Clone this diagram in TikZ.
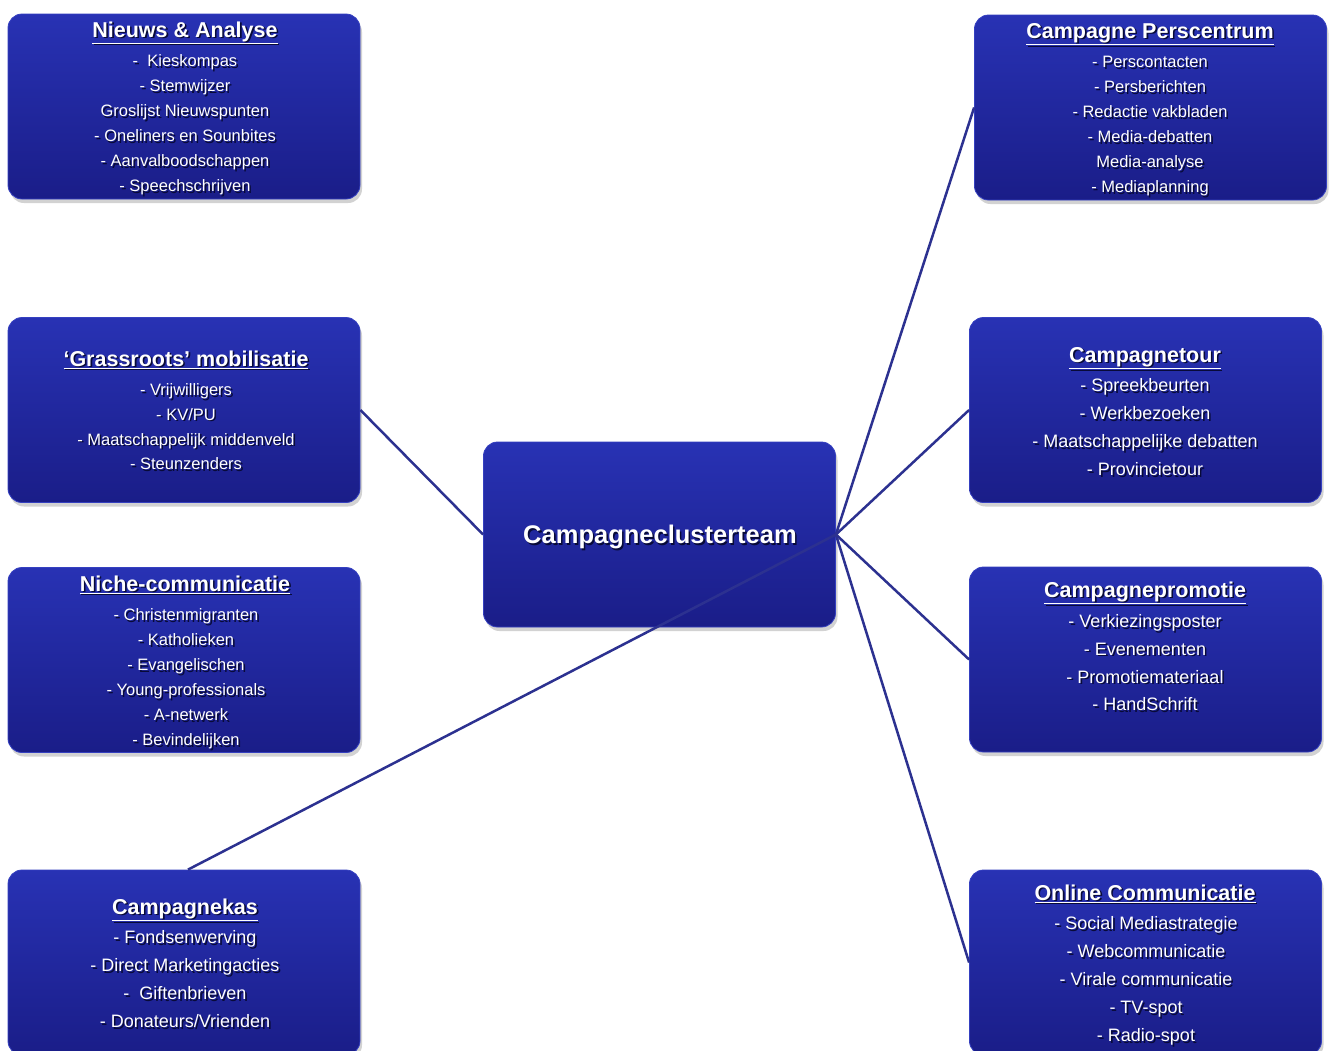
\documentclass[tikz,border=0pt]{standalone}
\usepackage{fontspec}
\setmainfont{Liberation Sans}
\usetikzlibrary{shadows}
\definecolor{boxtop}{HTML}{2832B4}
\definecolor{boxbot}{HTML}{1A1D88}
\definecolor{boxedge}{HTML}{3540C0}
\definecolor{linkc}{HTML}{2C3190}
\definecolor{shadowc}{HTML}{080A38}
\newcommand\txsh[1]{\rlap{\raisebox{-1.6pt}{\hspace{1.6pt}\textcolor{shadowc}{#1}}}#1}
\tikzset{
  panel/.style={rounded corners=14pt, top color=boxtop, bottom color=boxbot,
    draw=boxedge, line width=0.8pt, minimum width=352pt, minimum height=185pt,
    inner sep=0pt, drop shadow={opacity=0.35, shadow xshift=2pt, shadow yshift=-4pt}},
  ttl/.style={anchor=mid, text=white, inner sep=0pt, yshift=-4.5pt, font=\fontsize{21.5}{24}\bfseries\selectfont},
  itm/.style={anchor=mid, text=white, inner sep=0pt, yshift=-4pt, font=\fontsize{16.5}{20}\selectfont},
  itmb/.style={anchor=mid, text=white, inner sep=0pt, yshift=-4pt, font=\fontsize{18}{22}\selectfont},
  link/.style={draw=linkc, line width=2.5pt}
}
\begin{document}
\begin{tikzpicture}[x=1pt,y=-1pt]
\clip (0,0) rectangle (1330,1050);
\useasboundingbox (0,0) rectangle (1330,1050);
\fill[white] (0,0) rectangle (1330,1050);

% boxes
\node[panel] (na) at (184,106.5) {};
\node[panel] (pc) at (1150.5,107.5) {};
\node[panel] (gr) at (184,410) {};
\node[panel] (ctour) at (1145.5,410) {};
\node[panel] (ni) at (184,660) {};
\node[panel] (cpro) at (1145.5,659.5) {};
\node[panel] (kas) at (184,962.5) {};
\node[panel] (oc) at (1145.5,962.5) {};
\node[panel] (ct) at (659.5,534.5) {};

% connectors
\draw[link] (ct.west) -- (gr.east);
\draw[link] (ct.east) -- (pc.west);
\draw[link] (ct.east) -- (ctour.west);
\draw[link] (ct.east) -- (cpro.west);
\draw[link] (ct.east) -- (oc.west);
\draw[link] (ct.east) -- ([xshift=4pt]kas.north);

% centre text
\node[anchor=mid, text=white, inner sep=0pt, font=\fontsize{25.5}{28}\bfseries\selectfont] (ctt) at (660,541) {\txsh{Campagneclusterteam}};

% Nieuws & Analyse
\node[ttl] (nat) at (185,30) {\txsh{\underline{Nieuws \& Analyse}}};
\foreach \t [count=\i from 0] in {{-~ Kieskompas},{- Stemwijzer},{Groslijst Nieuwspunten},{- Oneliners en Sounbites},{- Aanvalboodschappen},{- Speechschrijven}}
  \node[itm] (na\i) at (185,60+25*\i) {\txsh{\t}};

% Campagne Perscentrum
\node[ttl] (pct) at (1150,31) {\txsh{\underline{Campagne Perscentrum}}};
\foreach \t [count=\i from 0] in {{- Perscontacten},{- Persberichten},{- Redactie vakbladen},{- Media-debatten},{Media-analyse},{- Mediaplanning}}
  \node[itm] (pc\i) at (1150,61+25*\i) {\txsh{\t}};

% Grassroots
\node[ttl] (grt) at (186,359) {\txsh{\underline{‘Grassroots’ mobilisatie}}};
\foreach \t [count=\i from 0] in {{- Vrijwilligers},{- KV/PU},{- Maatschappelijk middenveld},{- Steunzenders}}
  \node[itm] (gr\i) at (186,389+24.7*\i) {\txsh{\t}};

% Niche
\node[ttl] (nit) at (185,584) {\txsh{\underline{Niche-communicatie}}};
\foreach \t [count=\i from 0] in {{- Christenmigranten},{- Katholieken},{- Evangelischen},{- Young-professionals},{- A-netwerk},{- Bevindelijken}}
  \node[itm] (ni\i) at (186,614+25*\i) {\txsh{\t}};

% Campagnetour
\node[ttl] (ctourt) at (1145,355) {\txsh{\underline{Campagnetour}}};
\foreach \t [count=\i from 0] in {{- Spreekbeurten},{- Werkbezoeken},{- Maatschappelijke debatten},{- Provincietour}}
  \node[itmb] (ctour\i) at (1145,385+28*\i) {\txsh{\t}};

% Campagnepromotie
\node[ttl] (cprot) at (1145,590) {\txsh{\underline{Campagnepromotie}}};
\foreach \t [count=\i from 0] in {{- Verkiezingsposter},{- Evenementen},{- Promotiemateriaal},{- HandSchrift}}
  \node[itmb] (cpro\i) at (1145,621+27.7*\i) {\txsh{\t}};

% Campagnekas
\node[ttl] (kast) at (185,907) {\txsh{\underline{Campagnekas}}};
\foreach \t [count=\i from 0] in {{- Fondsenwerving},{- Direct Marketingacties},{-~ Giftenbrieven},{- Donateurs/Vrienden}}
  \node[itmb] (kas\i) at (185,937+28*\i) {\txsh{\t}};

% Online Communicatie
\node[ttl] (oct) at (1145,893) {\txsh{\underline{Online Communicatie}}};
\foreach \t [count=\i from 0] in {{- Social Mediastrategie},{- Webcommunicatie},{- Virale communicatie},{- TV-spot},{- Radio-spot}}
  \node[itmb] (oc\i) at (1146,923+28*\i) {\txsh{\t}};
\end{tikzpicture}
\end{document}
